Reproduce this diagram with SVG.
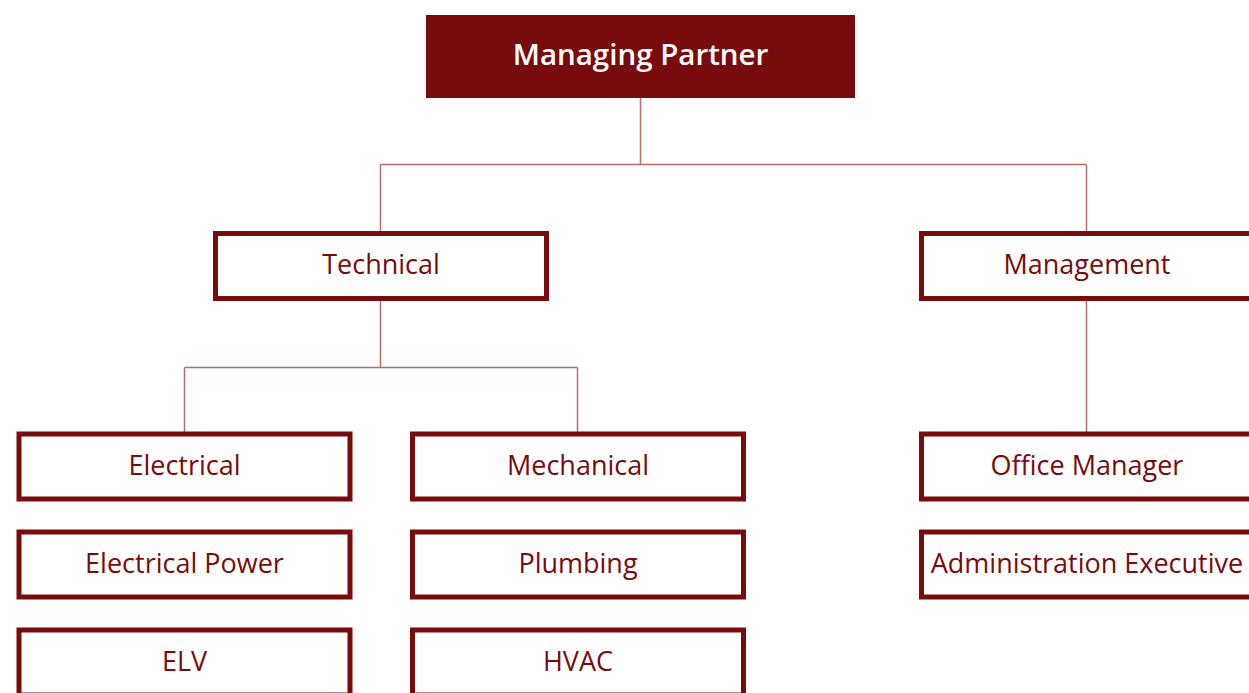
<svg xmlns="http://www.w3.org/2000/svg" width="1249" height="693" viewBox="0 0 1249 693">
<style>
.box{fill:#ffffff;stroke:#780b0b;stroke-width:5}
.lbl{font-family:"Open Sans","Liberation Sans",sans-serif;font-size:27px;fill:#780b0b;text-anchor:middle}
.top{font-family:"Open Sans","Liberation Sans",sans-serif;font-size:29.5px;font-weight:600;fill:#ffffff;text-anchor:middle}
.conn{fill:none;stroke:#b86c6c;stroke-width:1.5}
</style>
<rect width="1249" height="693" fill="#ffffff"/>
<g id="connectors">
<path class="conn" d="M640.5,98 V164.5 M380.5,164.5 H1086.5 M380.5,164.5 V231 M1086.5,164.5 V231"/>
<path class="conn" d="M380.5,300 V367.5 M184.5,367.5 H577.5 M184.5,367.5 V432 M577.5,367.5 V432"/>
<path class="conn" d="M1086.5,300 V432"/>
</g>
<g id="managing-partner">
<rect x="426" y="15" width="429" height="83" fill="#780b0b"/>
<text class="top" x="640.5" y="65">Managing Partner</text>
</g>
<g id="technical">
<rect class="box" x="215.5" y="233.5" width="331" height="65"/>
<text class="lbl" x="381" y="274">Technical</text>
</g>
<g id="management">
<rect class="box" x="921.5" y="233.5" width="331" height="65"/>
<text class="lbl" x="1087" y="274">Management</text>
</g>
<g id="electrical">
<rect class="box" x="19" y="434" width="331" height="65"/>
<text class="lbl" x="184.5" y="475">Electrical</text>
</g>
<g id="electrical-power">
<rect class="box" x="19" y="532" width="331" height="65"/>
<text class="lbl" x="184.5" y="573">Electrical Power</text>
</g>
<g id="elv">
<rect class="box" x="19" y="630" width="331" height="65"/>
<text class="lbl" x="184.5" y="671">ELV</text>
</g>
<g id="mechanical">
<rect class="box" x="412.5" y="434" width="331" height="65"/>
<text class="lbl" x="578" y="475">Mechanical</text>
</g>
<g id="plumbing">
<rect class="box" x="412.5" y="532" width="331" height="65"/>
<text class="lbl" x="578" y="573">Plumbing</text>
</g>
<g id="hvac">
<rect class="box" x="412.5" y="630" width="331" height="65"/>
<text class="lbl" x="578" y="671">HVAC</text>
</g>
<g id="office-manager">
<rect class="box" x="921.5" y="434" width="331" height="65"/>
<text class="lbl" x="1087" y="475">Office Manager</text>
</g>
<g id="administration-executive">
<rect class="box" x="921.5" y="532" width="331" height="65"/>
<text class="lbl" x="1087" y="573">Administration Executive</text>
</g>
</svg>
